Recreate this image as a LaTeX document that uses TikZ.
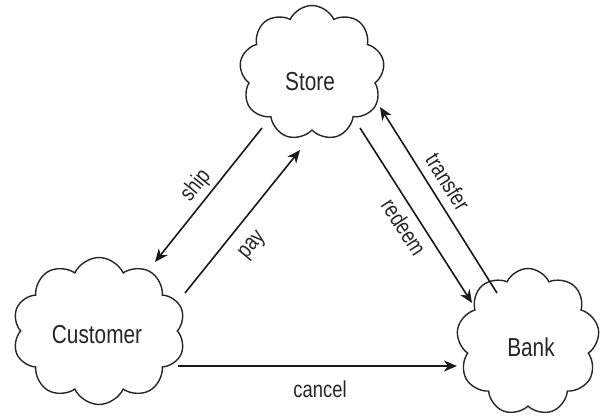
\documentclass[tikz,border=0pt]{standalone}
\usepackage{fontspec}
\setmainfont[FakeStretch=0.8]{Liberation Sans}
\usetikzlibrary{shapes.symbols,arrows.meta,calc}
\begin{document}
\begin{tikzpicture}[x=1pt,y=-1pt,
  party/.style={cloud, draw=black!85, line width=1.4pt, cloud ignores aspect, inner sep=0pt},
  pname/.style={font=\fontsize{26}{28}\selectfont, text=black!85, inner sep=0pt},
  msg/.style={draw=black!90, line width=1.6pt, -{Stealth[length=13pt,width=11pt,inset=4pt]}},
  lbl/.style={font=\fontsize{23}{25}\selectfont, text=black!85, inner sep=1pt}]
\useasboundingbox (0,0) rectangle (600,417);

% the three parties
\node[party, cloud puffs=9, cloud puff arc=130, minimum width=145pt, minimum height=135pt] (store) at (312,73) {};
\node[party, cloud puffs=10, cloud puff arc=130, minimum width=173pt, minimum height=147pt] (customer) at (99,331) {};
\node[party, cloud puffs=9, cloud puff arc=130, minimum width=143pt, minimum height=147pt] (bank) at (528,342) {};

% their names, set a little below each cloud centre
\node[pname] (tstore) at ($(store)+(-2,9)$) {Store};
\node[pname] (tcustomer) at ($(customer)+(-2,4)$) {Customer};
\node[pname] (tbank) at ($(bank)+(3,5)$) {Bank};

% messages between them
\draw[msg] ($(store)+(-50,55)$) -- ($(customer)+(56,-69)$);
\draw[msg] ($(customer)+(86,-38)$) -- ($(store)+(-12,77)$);
\draw[msg] ($(store)+(48,55)$) -- ($(bank)+(-56,-39)$);
\draw[msg] ($(bank)+(-31,-49)$) -- ($(store)+(68,34)$);
\draw[msg] ($(customer)+(79,35)$) -- ($(bank)+(-71,24)$);

% message labels
\node[lbl, rotate=51] (lship) at (196,186) {ship};
\node[lbl, rotate=50] (lpay) at (253,246) {pay};
\node[lbl, rotate=-57] (lredeem) at (404,227) {redeem};
\node[lbl, rotate=-58] (ltransfer) at (448,182) {transfer};
\node[lbl] (lcancel) at (320,389) {cancel};
\end{tikzpicture}
\end{document}
